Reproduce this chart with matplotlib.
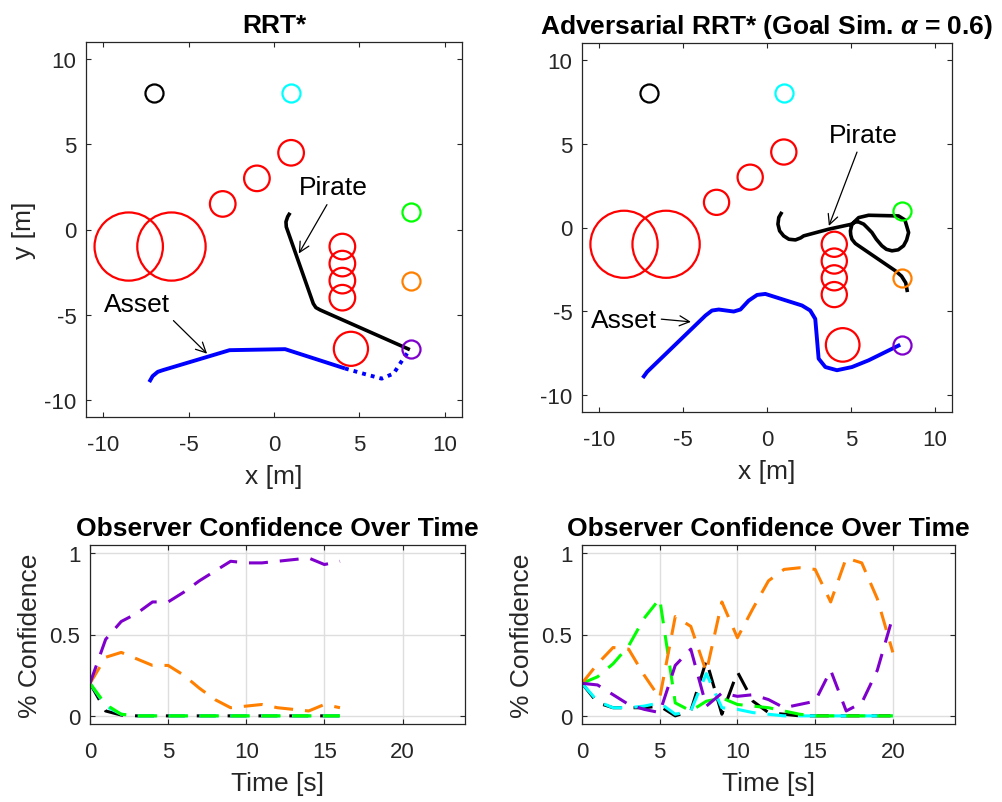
import numpy as np
import matplotlib
matplotlib.use("Agg")
import matplotlib.pyplot as plt
from matplotlib.patches import Circle

plt.rcParams['font.family'] = ['Liberation Sans', 'DejaVu Sans']
plt.rcParams['axes.unicode_minus'] = False
plt.rcParams['mathtext.fontset'] = 'custom'
plt.rcParams['mathtext.it'] = 'Liberation Sans:italic:bold'
plt.rcParams['mathtext.rm'] = 'Liberation Sans:bold'
plt.rcParams['mathtext.bf'] = 'Liberation Sans:bold'

# obstacles (red circles)
obs_x = [-8.5, -6, -3, -1, 1, 4, 4, 4, 4, 4.5]
obs_y = [-1, -1, 1.5, 3, 4.5, -1, -2, -3, -4, -7]
obs_r = [2, 2, 0.75, 0.75, 0.75, 0.75, 0.75, 0.75, 0.75, 1.0]

# candidate goals
goal_x = [-7, 1, 8, 8, 8]
goal_y = [8, 8, 1, -3, -7]
goal_colors = ['#000000', '#00FFFF', '#00FF00', '#FF8000', '#7F00CC']

# RRT* paths
pirate1_x = [0.94, 0.8, 0.7, 0.72, 2.3, 2.45, 2.7, 7.95]
pirate1_y = [0.98, 0.75, 0.45, 0.15, -4.35, -4.58, -4.72, -7.05]
asset1_x = [-7.3, -7.1, -6.8, -6.5, -2.6, 0.65, 4.15]
asset1_y = [-8.95, -8.6, -8.35, -8.25, -7.08, -7.02, -8.15]
asset1_dot_x = [4.15, 5.2, 6.3, 7.0, 7.55, 7.95]
asset1_dot_y = [-8.15, -8.45, -8.75, -8.45, -7.6, -7.05]

# Adversarial RRT* paths
pirate2_x = [0.89, 0.7, 0.65, 0.75, 0.99, 1.3, 1.69, 2.0, 2.18, 3.67, 5.05, 5.45,
             6.04, 7.82, 8.2, 8.42, 8.3, 8.12, 7.8, 7.43, 7.1, 6.83, 6.5, 6.24,
             5.95, 5.75, 5.45, 5.25, 5.05, 4.96, 4.98, 5.05, 5.25, 5.45, 7.63,
             8.0, 8.25, 8.35]
pirate2_y = [0.93, 0.6, 0.2, -0.2, -0.5, -0.7, -0.74, -0.62, -0.5, -0.1, 0.2, 0.59,
             0.73, 0.69, 0.45, -0.3, -0.75, -1.09, -1.33, -1.39, -1.3, -1.09, -0.7, -0.3,
             0.0, 0.2, 0.33, 0.33, 0.2, -0.2, -0.45, -0.7, -0.95, -1.09, -2.58,
             -2.9, -3.3, -3.85]
asset2_x = [-7.39, -7.13, -3.66, -3.27, -2.87, -1.98, -1.58, -1.09, -0.59, -0.1,
            2.08, 2.57, 2.87, 2.97, 3.07, 3.47, 4.16, 5.05, 6.04, 7.92]
asset2_y = [-8.97, -8.61, -5.25, -4.95, -4.89, -5.01, -4.89, -4.36, -4.02, -3.96,
            -4.65, -4.95, -5.45, -6.63, -7.82, -8.32, -8.51, -8.32, -7.92, -6.99]

# observer confidence, RRT*
t1 = list(range(17))
conf1 = {
    'black': [0.2, 0.03, 0.005, 0, 0, 0, 0, 0, 0, 0, 0, 0, 0, 0, 0, 0, 0],
    'cyan': [0.2, 0.06, 0.01, 0, 0, 0, 0, 0, 0, 0, 0, 0, 0, 0, 0, 0, 0],
    'green': [0.2, 0.07, 0.01, 0, 0, 0, 0, 0, 0, 0, 0, 0, 0, 0, 0, 0, 0],
    'orange': [0.2, 0.36, 0.39, 0.35, 0.31, 0.31, 0.25, 0.17, 0.10, 0.05, 0.06,
               0.07, 0.05, 0.04, 0.03, 0.07, 0.05],
    'purple': [0.2, 0.47, 0.58, 0.63, 0.70, 0.70, 0.76, 0.83, 0.89, 0.95, 0.94,
               0.94, 0.95, 0.96, 0.97, 0.93, 0.95],
}

# observer confidence, Adversarial RRT*
t2 = list(range(21))
conf2 = {
    'black': [0.2, 0.08, 0.05, 0.05, 0.05, 0.06, 0.0, 0.03, 0.34, 0.01, 0.27,
              0.09, 0.02, 0.01, 0, 0, 0, 0, 0, 0, 0],
    'cyan': [0.2, 0.09, 0.05, 0.05, 0.06, 0.08, 0.01, 0.03, 0.26, 0.05, 0.04,
             0.02, 0.01, 0, 0, 0, 0, 0, 0, 0, 0],
    'green': [0.2, 0.24, 0.32, 0.43, 0.60, 0.72, 0.08, 0.03, 0.09, 0.11, 0.07,
              0.06, 0.05, 0.03, 0.01, 0, 0, 0, 0, 0, 0],
    'orange': [0.2, 0.32, 0.42, 0.41, 0.25, 0.11, 0.61, 0.55, 0.27, 0.70, 0.48,
               0.66, 0.83, 0.90, 0.91, 0.90, 0.70, 0.97, 0.94, 0.72, 0.39],
    'purple': [0.2, 0.19, 0.13, 0.07, 0.04, 0.02, 0.31, 0.41, 0.06, 0.14, 0.12,
               0.13, 0.10, 0.05, 0.07, 0.09, 0.28, 0.03, 0.08, 0.28, 0.61],
}
line_colors = {'black': '#000000', 'cyan': '#00FFFF', 'green': '#00FF00',
               'orange': '#FF8000', 'purple': '#7F00CC'}

W, H = 1002, 803
fig = plt.figure(figsize=(W / 100, H / 100), dpi=100)


def px_axes(l, t, r, b):
    return fig.add_axes([l / W, 1 - b / H, (r - l) / W, (b - t) / H])


axc = '#262626'


def style(ax):
    for s in ax.spines.values():
        s.set_color(axc)
        s.set_linewidth(0.9)
    ax.tick_params(direction='in', top=True, right=True, length=3.5, width=0.8,
                   color=axc, labelcolor=axc, labelsize=16)
    ax.tick_params(axis='x', pad=12)
    ax.tick_params(axis='y', pad=7)


def map_plot(ax, title, pirate, asset, dotted=None):
    for x, y, r in zip(obs_x, obs_y, obs_r):
        ax.add_patch(Circle((x, y), r, fill=False, ec='#FF0000', lw=1.6))
    ax.plot(asset[0], asset[1], color='#0000FF', lw=2.8, solid_capstyle='butt')
    if dotted is not None:
        ax.plot(dotted[0], dotted[1], color='#0000FF', lw=2.8, ls=(0, (1, 1.3)))
    ax.plot(pirate[0], pirate[1], color='#000000', lw=2.6, solid_capstyle='butt')
    for x, y, c in zip(goal_x, goal_y, goal_colors):
        ax.plot(x, y, 'o', ms=13, mfc='none', mec=c, mew=1.6)
    ax.set_xlim(-11, 11)
    ax.set_ylim(-11, 11)
    ax.set_xticks([-10, -5, 0, 5, 10])
    ax.set_yticks([-10, -5, 0, 5, 10])
    ax.set_xlabel('x [m]', fontsize=19, color=axc, labelpad=7)
    ax.set_title(title, fontsize=19, fontweight='bold', pad=7)
    style(ax)


ax1 = px_axes(86, 43, 462, 418)
map_plot(ax1, 'RRT*', (pirate1_x, pirate1_y), (asset1_x, asset1_y),
         (asset1_dot_x, asset1_dot_y))
ax1.set_ylabel('y [m]', fontsize=19, color=axc, labelpad=6)
ax1.text(3.47, 2.48, 'Pirate', fontsize=19, ha='center', va='center')
ax1.annotate('', xy=(1.37, -1.55), xytext=(3.18, 1.6),
             arrowprops=dict(arrowstyle='->', lw=0.9, mutation_scale=18))
ax1.text(-8.04, -4.35, 'Asset', fontsize=19, ha='center', va='center')
ax1.annotate('', xy=(-3.8, -7.4), xytext=(-6.0, -5.23),
             arrowprops=dict(arrowstyle='->', lw=0.9, mutation_scale=18))

ax2 = px_axes(582, 44, 952, 413)
map_plot(ax2, r'Adversarial RRT* (Goal Sim. $\alpha$ = 0.6)',
         (pirate2_x, pirate2_y), (asset2_x, asset2_y))
ax2.text(5.74, 5.54, 'Pirate', fontsize=19, ha='center', va='center')
ax2.annotate('', xy=(3.62, -0.06), xytext=(5.41, 4.65),
             arrowprops=dict(arrowstyle='->', lw=0.9, mutation_scale=18))
ax2.text(-8.51, -5.5, 'Asset', fontsize=19, ha='center', va='center')
ax2.annotate('', xy=(-4.36, -5.64), xytext=(-6.45, -5.45),
             arrowprops=dict(arrowstyle='->', lw=0.9, mutation_scale=18))


def conf_plot(ax, t, conf):
    for name in ['black', 'cyan', 'green', 'orange', 'purple']:
        ax.plot(t, conf[name], color=line_colors[name], lw=2.2,
                dashes=(6.2, 3.9), dash_capstyle='butt')
    ax.set_xlim(0, 24)
    ax.set_ylim(-0.05, 1.05)
    ax.set_xticks([0, 5, 10, 15, 20])
    ax.set_yticks([0, 0.5, 1])
    ax.set_yticklabels(['0', '0.5', '1'])
    ax.grid(True, color='#dedede', lw=1.0)
    ax.set_axisbelow(True)
    ax.set_xlabel('Time [s]', fontsize=19, color=axc, labelpad=7)
    ax.set_ylabel('% Confidence', fontsize=19, color=axc, labelpad=5)
    ax.set_title('Observer Confidence Over Time', fontsize=19, fontweight='bold', pad=7)
    style(ax)


ax3 = px_axes(90, 546, 465, 725)
conf_plot(ax3, t1, conf1)
ax4 = px_axes(582, 546, 955, 725)
conf_plot(ax4, t2, conf2)

fig.savefig('out.png', dpi=100)
